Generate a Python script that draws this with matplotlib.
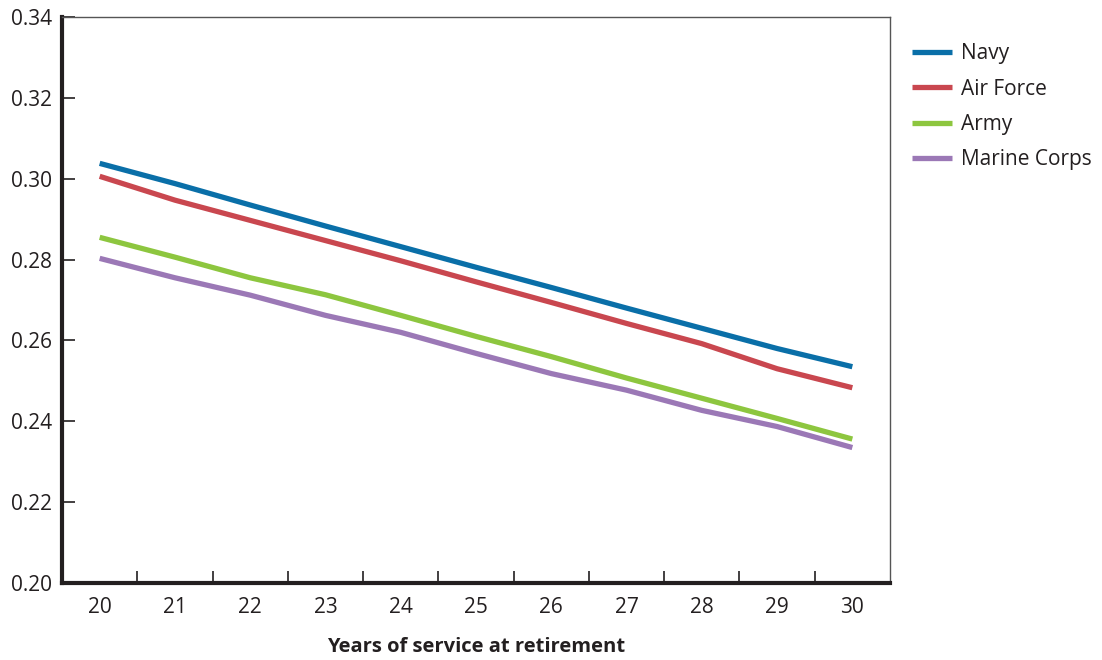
import numpy as np
import matplotlib.pyplot as plt

years = [20, 21, 22, 23, 24, 25, 26, 27, 28, 29, 30]
navy = [0.3038, 0.2988, 0.2935, 0.2883, 0.2832, 0.2781, 0.2731, 0.2680, 0.2630, 0.2580, 0.2535]
air_force = [0.3006, 0.2947, 0.2897, 0.2847, 0.2797, 0.2745, 0.2694, 0.2642, 0.2592, 0.2530, 0.2483]
army = [0.2855, 0.2806, 0.2755, 0.2713, 0.2662, 0.2610, 0.2560, 0.2507, 0.2457, 0.2407, 0.2356]
marine = [0.2803, 0.2755, 0.2712, 0.2662, 0.2620, 0.2568, 0.2518, 0.2477, 0.2427, 0.2387, 0.2335]

series = [("Navy", navy, "#0a6fa8"),
          ("Air Force", air_force, "#c9474f"),
          ("Army", army, "#8dc63f"),
          ("Marine Corps", marine, "#9b78b6")]

plt.rcParams['font.family'] = ['Open Sans', 'DejaVu Sans']

fig = plt.figure(figsize=(11.02, 6.60), dpi=100)
ax = fig.add_axes([0.0563, 0.1167, 0.7513, 0.8575])

for name, vals, col in series:
    ax.plot(years, vals, color=col, lw=3.8, label=name, solid_capstyle='butt')

ax.set_xlim(19.5, 30.5)
ax.set_ylim(0.20, 0.34)
ax.set_yticks(np.arange(0.20, 0.341, 0.02))
ax.set_yticklabels([f"{v:.2f}" for v in np.arange(0.20, 0.341, 0.02)])
ax.set_xticks(years)
ax.set_xticklabels([str(y) for y in years])
ax.set_xticks(np.arange(20.5, 30, 1), minor=True)
ax.tick_params(axis='x', which='major', length=0, pad=10, labelsize=15, colors='#231f20')
ax.tick_params(axis='x', which='minor', direction='in', length=9, width=1.2, color='#231f20')
ax.tick_params(axis='y', direction='in', length=9, width=1.2, pad=7, labelsize=15, colors='#231f20')

for s in ['left', 'bottom']:
    ax.spines[s].set_linewidth(3)
    ax.spines[s].set_color('#231f20')
for s in ['top', 'right']:
    ax.spines[s].set_linewidth(1)
    ax.spines[s].set_color('#555555')

ax.set_xlabel("Years of service at retirement", fontsize=14.5, fontweight='bold',
              color='#231f20', labelpad=14)

leg = ax.legend(loc='upper left', bbox_to_anchor=(1.017, 0.968), frameon=False, fontsize=15,
                handlelength=1.9, handletextpad=0.45, labelspacing=0.68, borderaxespad=0)
for t in leg.get_texts():
    t.set_color('#231f20')

fig.savefig("out.png", dpi=100)
